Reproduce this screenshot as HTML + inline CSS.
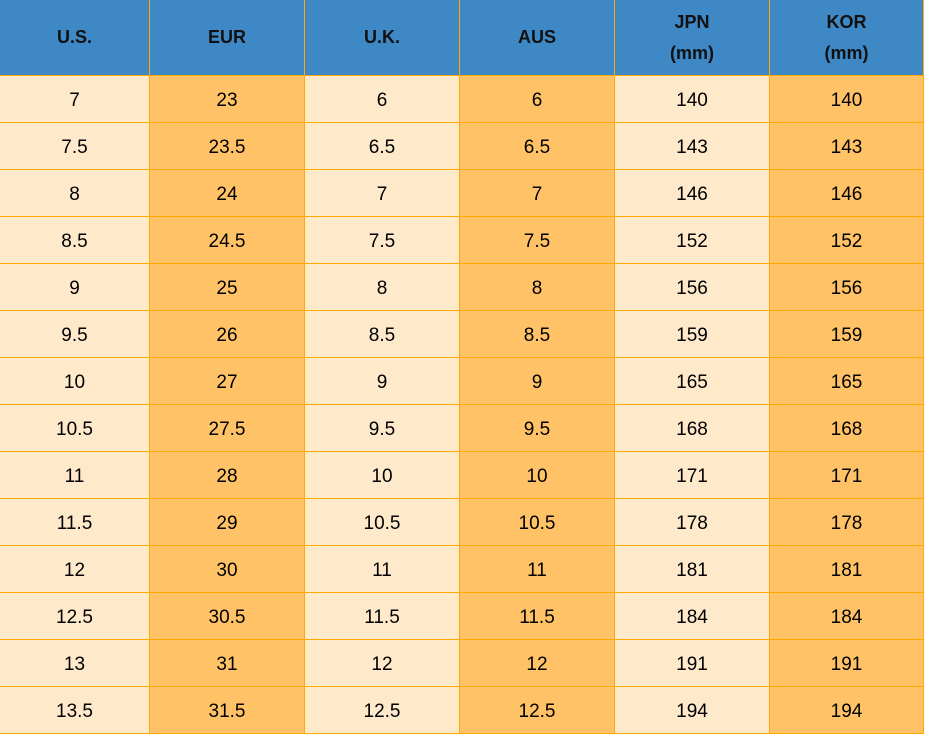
<!DOCTYPE html>
<html><head><style>
body{margin:0;background:#fff;width:925px;height:730px;overflow:hidden;font-family:"Liberation Sans",Arial,sans-serif}
table{border-collapse:collapse;position:absolute;left:-1px;top:-1px;table-layout:fixed}
td,th{border:1px solid #FFAA00;text-align:center;padding:0;color:#000}
th{background:#3F88C6;height:75px;font-size:18px;font-weight:bold;line-height:31px;border-color:#FFAA00;color:#111}
td{height:43px;font-size:19px;padding-top:3px;box-sizing:content-box}
td:nth-child(odd){background:#FFE9CB}
td:nth-child(even){background:#FFC266}
</style></head><body>
<table>
<colgroup><col style="width:150px"><col style="width:155px"><col style="width:155px"><col style="width:155px"><col style="width:155px"><col style="width:154px"></colgroup>
<tr><th>U.S.</th><th>EUR</th><th>U.K.</th><th>AUS</th><th>JPN<br>(mm)</th><th>KOR<br>(mm)</th></tr>
<tr><td>7</td><td>23</td><td>6</td><td>6</td><td>140</td><td>140</td></tr>
<tr><td>7.5</td><td>23.5</td><td>6.5</td><td>6.5</td><td>143</td><td>143</td></tr>
<tr><td>8</td><td>24</td><td>7</td><td>7</td><td>146</td><td>146</td></tr>
<tr><td>8.5</td><td>24.5</td><td>7.5</td><td>7.5</td><td>152</td><td>152</td></tr>
<tr><td>9</td><td>25</td><td>8</td><td>8</td><td>156</td><td>156</td></tr>
<tr><td>9.5</td><td>26</td><td>8.5</td><td>8.5</td><td>159</td><td>159</td></tr>
<tr><td>10</td><td>27</td><td>9</td><td>9</td><td>165</td><td>165</td></tr>
<tr><td>10.5</td><td>27.5</td><td>9.5</td><td>9.5</td><td>168</td><td>168</td></tr>
<tr><td>11</td><td>28</td><td>10</td><td>10</td><td>171</td><td>171</td></tr>
<tr><td>11.5</td><td>29</td><td>10.5</td><td>10.5</td><td>178</td><td>178</td></tr>
<tr><td>12</td><td>30</td><td>11</td><td>11</td><td>181</td><td>181</td></tr>
<tr><td>12.5</td><td>30.5</td><td>11.5</td><td>11.5</td><td>184</td><td>184</td></tr>
<tr><td>13</td><td>31</td><td>12</td><td>12</td><td>191</td><td>191</td></tr>
<tr><td>13.5</td><td>31.5</td><td>12.5</td><td>12.5</td><td>194</td><td>194</td></tr>
</table>
</body></html>
